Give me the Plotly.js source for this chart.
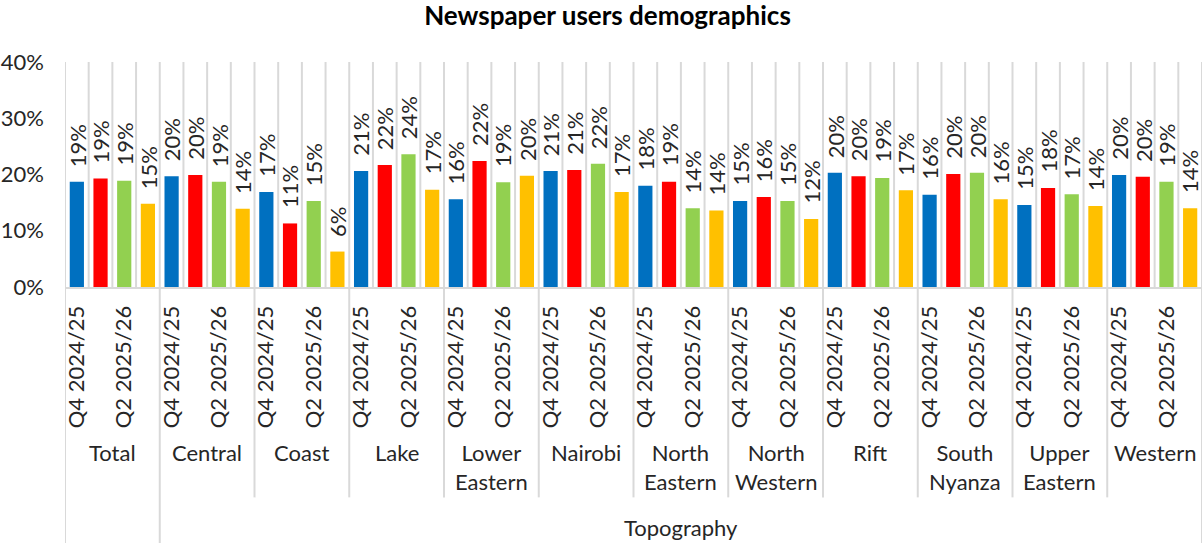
<!DOCTYPE html>
<html>
<head>
<meta charset="utf-8">
<script src="https://cdn.plot.ly/plotly-3.0.1.min.js"></script>
<style>
html,body{margin:0;padding:0;background:#fff;}
#chart{width:1203px;height:543px;}
</style>
</head>
<body>
<div id="chart"></div>
<script>
// ---- Data ----
const periods = ['Q4 2024/25', 'Q1 2025/26', 'Q2 2025/26', 'Q3 2025/26'];
const regions = ['Total', 'Central', 'Coast', 'Lake', 'Lower<br>Eastern', 'Nairobi',
  'North<br>Eastern', 'North<br>Western', 'Rift', 'South<br>Nyanza', 'Upper<br>Eastern', 'Western'];
const outerGroup = 'Topography';
const q4_2425 = [18.7, 19.7, 16.9, 20.6, 15.6, 20.6, 18.0, 15.3, 20.3, 16.4, 14.6, 19.9];
const q1_2526 = [19.3, 19.9, 11.3, 21.7, 22.4, 20.8, 18.7, 16.0, 19.7, 20.1, 17.6, 19.6];
const q2_2526 = [18.9, 18.7, 15.3, 23.6, 18.6, 21.9, 14.0, 15.3, 19.4, 20.3, 16.5, 18.7];
const q3_2526 = [14.8, 13.9, 6.3, 17.3, 19.8, 16.9, 13.6, 12.1, 17.2, 15.6, 14.4, 14.0];
const yTicks = [0, 10, 20, 30, 40];

// ---- Styles ----
const colors = ['#0070C0', '#FF0000', '#92D050', '#FFC000'];
const FONT = 'Lato, "Open Sans", sans-serif';
const TXT = '#262626';
const GRID = '#D9D9D9';
const FS = 22;

const series = [q4_2425, q1_2526, q2_2526, q3_2526];
const nP = periods.length;
const nG = regions.length;

const traces = series.map((vals, i) => ({
  type: 'bar',
  name: periods[i],
  x: vals.map((v, g) => g * nP + i),
  y: vals,
  width: 0.6,
  marker: {color: colors[i]},
  hoverinfo: 'skip'
}));

const annotations = [];
series.forEach((vals, i) => {
  vals.forEach((v, g) => {
    annotations.push({
      x: g * nP + i, y: v, xref: 'x', yref: 'y',
      text: Math.round(v) + '%', textangle: -90,
      showarrow: false, xanchor: 'center', yanchor: 'bottom', yshift: 13,
      font: {family: FONT, size: FS, color: TXT}
    });
  });
});
regions.forEach((r, g) => {
  annotations.push({
    x: g * nP + (nP - 1) / 2, y: -0.665, xref: 'x', yref: 'paper',
    text: r, showarrow: false, xanchor: 'center', yanchor: 'top',
    font: {family: FONT, size: FS, color: TXT}
  });
});
annotations.push({
  x: ((1 * nP - 0.5) + (nG * nP - 0.5)) / 2, y: -1.07, xref: 'x', yref: 'paper',
  text: outerGroup, showarrow: false, xanchor: 'center', yanchor: 'middle',
  font: {family: FONT, size: FS, color: TXT}
});

const shapes = [];
for (let k = 0; k <= nG * nP; k++) {
  shapes.push({type: 'line', xref: 'x', yref: 'y', x0: k - 0.5, x1: k - 0.5, y0: 0, y1: yTicks[yTicks.length - 1],
    line: {color: GRID, width: 2}, layer: 'below'});
}
for (let g = 0; g <= nG; g++) {
  const full = (g === 0 || g === 1 || g === nG);
  shapes.push({type: 'line', xref: 'x', yref: 'paper', x0: g * nP - 0.5, x1: g * nP - 0.5,
    y0: 0, y1: full ? -1.14 : -0.935, line: {color: GRID, width: 2}});
}

const tickvals = [], ticktext = [];
for (let g = 0; g < nG; g++) {
  for (let i = 0; i < nP; i += 2) {
    tickvals.push(g * nP + i);
    ticktext.push(periods[i]);
  }
}

const layout = {
  width: 1203, height: 543,
  margin: {l: 65, r: 1, t: 62, b: 256},
  paper_bgcolor: '#fff', plot_bgcolor: '#fff',
  showlegend: false,
  barmode: 'overlay',
  title: {text: '<b>Newspaper users demographics</b>', x: 0.505, xanchor: 'center',
    yref: 'container', y: 0.97, yanchor: 'middle',
    font: {family: FONT, size: 26, color: '#000'}},
  xaxis: {
    range: [-0.5, nG * nP - 0.5], showgrid: false, zeroline: false,
    showline: true, linecolor: GRID, linewidth: 2,
    tickmode: 'array', tickvals: tickvals, ticktext: ticktext, tickangle: -90,
    ticks: '', ticklabelstandoff: 8,
    tickfont: {family: FONT, size: FS, color: TXT}
  },
  yaxis: {
    range: [0, 40], showgrid: false, zeroline: false, showline: false,
    tickmode: 'array', tickvals: yTicks, ticktext: yTicks.map(v => v + '%'),
    ticks: '', ticklabelstandoff: 20,
    tickfont: {family: FONT, size: FS, color: TXT}
  },
  annotations: annotations,
  shapes: shapes
};

Plotly.newPlot('chart', traces, layout, {displayModeBar: false, staticPlot: true});
</script>
</body>
</html>
